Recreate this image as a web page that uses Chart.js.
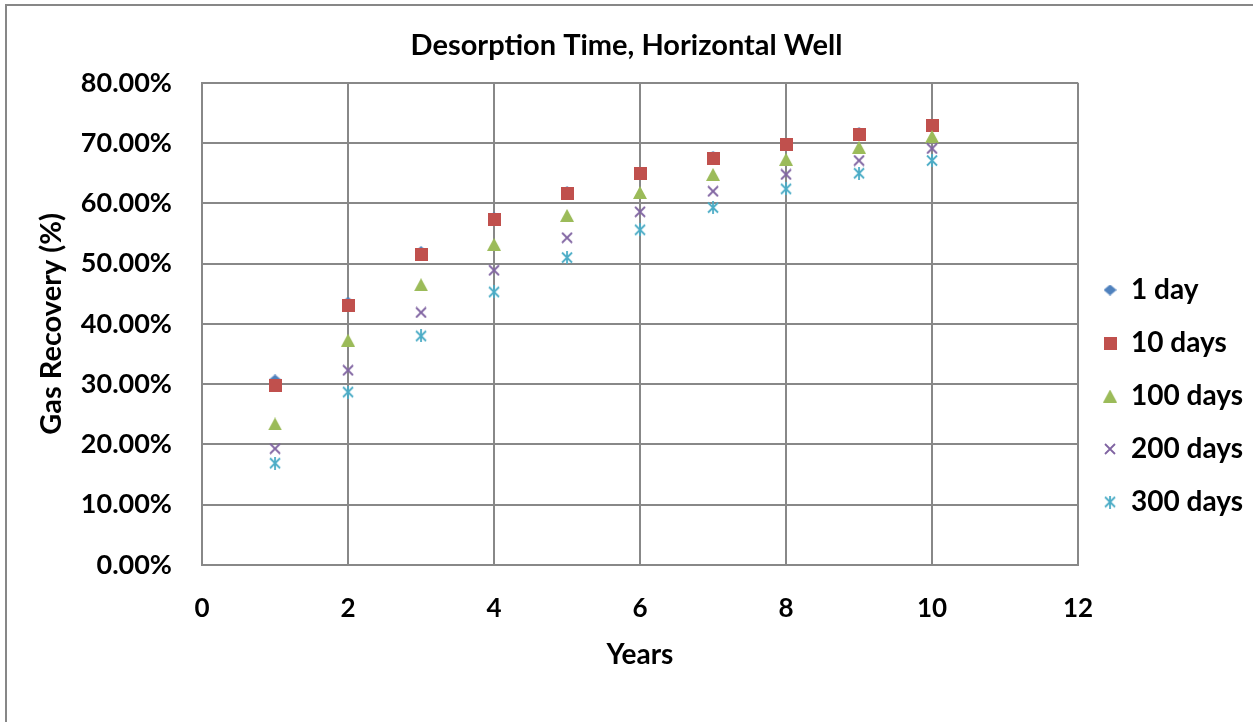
<!DOCTYPE html>
<html>
<head>
<meta charset="utf-8">
<title>Desorption Time, Horizontal Well</title>
<script src="https://cdn.jsdelivr.net/npm/chart.js@4.4.1/dist/chart.umd.min.js"></script>
<style>
  html, body { margin: 0; padding: 0; background: #fff; overflow: hidden; }
  #wrap { position: relative; width: 1253px; height: 722px; }
  #frame { position: absolute; left: 5px; top: 4px; width: 1300px; height: 800px;
           border: 2px solid #878787; box-sizing: border-box; }
  #c { position: absolute; left: 0; top: 0; }
</style>
</head>
<body>
<div id="wrap">
  <div id="frame"></div>
  <canvas id="c" width="1253" height="722"></canvas>
</div>
<script>
// Gas recovery (%) per year for each desorption time
const years = [1, 2, 3, 4, 5, 6, 7, 8, 9, 10];
const seriesNames = ['1 day', '10 days', '100 days', '200 days', '300 days'];
const recovery1Day   = [30.7, 43.6, 52.0, 57.6, 61.9, 65.2, 67.8, 69.8, 71.7, 73.0];
const recovery10Days = [29.8, 43.0, 51.5, 57.3, 61.6, 64.9, 67.5, 69.7, 71.5, 72.9];
const recovery100Days = [23.4, 37.3, 46.5, 53.2, 58.0, 61.8, 64.8, 67.3, 69.3, 71.1];
const recovery200Days = [19.3, 32.3, 41.9, 48.9, 54.3, 58.6, 62.0, 64.8, 67.1, 69.1];
const recovery300Days = [16.9, 28.7, 38.0, 45.3, 51.0, 55.6, 59.3, 62.4, 65.0, 67.1];
const xTickStep = 2;
const yTickStep = 10;

const seriesValues = [recovery1Day, recovery10Days, recovery100Days, recovery200Days, recovery300Days];
const seriesColors = ['#4F81BD', '#C0504D', '#9BBB59', '#8064A2', '#4BACC6'];
const seriesMarkers = ['diamond', 'square', 'triangle', 'x', 'asterisk'];

// Small canvases used as marker glyphs (Office-style shapes)
function makeMarker(kind, color) {
  const sizes = { diamond: [13, 11], square: [13, 13], triangle: [14, 13], x: [12, 12], asterisk: [12, 13] };
  const [w, h] = sizes[kind];
  const cv = document.createElement('canvas');
  cv.width = w; cv.height = h;
  const g = cv.getContext('2d');
  g.fillStyle = color; g.strokeStyle = color; g.lineWidth = 1.8; g.lineCap = 'butt';
  g.beginPath();
  if (kind === 'diamond') {
    g.moveTo(0, h / 2); g.lineTo(w / 2, 0); g.lineTo(w, h / 2); g.lineTo(w / 2, h); g.closePath(); g.fill();
  } else if (kind === 'square') {
    g.fillRect(0, 0, w, h);
  } else if (kind === 'triangle') {
    g.moveTo(w / 2, 0); g.lineTo(w, h); g.lineTo(0, h); g.closePath(); g.fill();
  } else if (kind === 'x') {
    g.moveTo(1, 1); g.lineTo(w - 1, h - 1); g.moveTo(w - 1, 1); g.lineTo(1, h - 1); g.stroke();
  } else {
    g.moveTo(1, 1.5); g.lineTo(w - 1, h - 1.5); g.moveTo(w - 1, 1.5); g.lineTo(1, h - 1.5);
    g.moveTo(w / 2, 0); g.lineTo(w / 2, h); g.stroke();
  }
  return cv;
}

function build() {
  const gridColor = '#888888';
  const datasets = seriesNames.map((name, i) => ({
    label: name,
    data: years.map((yr, k) => ({ x: yr, y: seriesValues[i][k] })),
    pointStyle: makeMarker(seriesMarkers[i], seriesColors[i]),
    pointRadius: 7,
    backgroundColor: seriesColors[i],
    borderColor: seriesColors[i],
    showLine: false,
    order: seriesNames.length - i
  }));

  new Chart(document.getElementById('c'), {
    type: 'scatter',
    data: { datasets },
    options: {
      responsive: false,
      animation: false,
      layout: { padding: { left: 0, right: 0, top: 0, bottom: 0 } },
      plugins: {
        tooltip: { enabled: false },
        title: {
          display: true,
          text: 'Desorption Time, Horizontal Well',
          color: '#000',
          font: { family: 'Lato', size: 29, weight: 'bold' },
          padding: { top: 28, bottom: 20 }
        },
        legend: {
          position: 'right',
          title: { display: true, text: ' ', font: { family: 'Lato', size: 10 }, padding: { top: 58, bottom: 0 } },
          labels: {
            usePointStyle: true,
            boxWidth: 14,
            boxHeight: 14,
            padding: 25,
            color: '#000',
            font: { family: 'Lato', size: 28, weight: 'bold' },
            sort: (a, b) => a.datasetIndex - b.datasetIndex
          }
        }
      },
      scales: {
        x: {
          type: 'linear',
          min: 0, max: 12,
          afterFit: (s) => { s.height = 157; },
          ticks: { stepSize: xTickStep, color: '#000', padding: 28,
                   font: { family: 'Lato', size: 26, weight: 'bold' } },
          grid: { color: gridColor, lineWidth: 2, drawTicks: false },
          border: { color: gridColor, width: 2 },
          title: { display: true, text: 'Years', color: '#000',
                   font: { family: 'Lato', size: 28, weight: 'bold' },
                   padding: { top: 0, bottom: 50 } }
        },
        y: {
          min: 0, max: 80,
          afterFit: (s) => { s.width = 202; },
          ticks: { stepSize: yTickStep, color: '#000', padding: 30,
                   font: { family: 'Lato', size: 27, weight: 'bold' },
                   callback: (v) => v.toFixed(2) + '%' },
          grid: { color: gridColor, lineWidth: 2, drawTicks: false },
          border: { color: gridColor, width: 2 },
          title: { display: true, text: 'Gas Recovery (%)', color: '#000',
                   font: { family: 'Lato', size: 29, weight: 'bold' },
                   padding: { top: 34, bottom: 0 } }
        }
      }
    }
  });
}

document.fonts.load('bold 24px Lato').then(build, build);
</script>
</body>
</html>
